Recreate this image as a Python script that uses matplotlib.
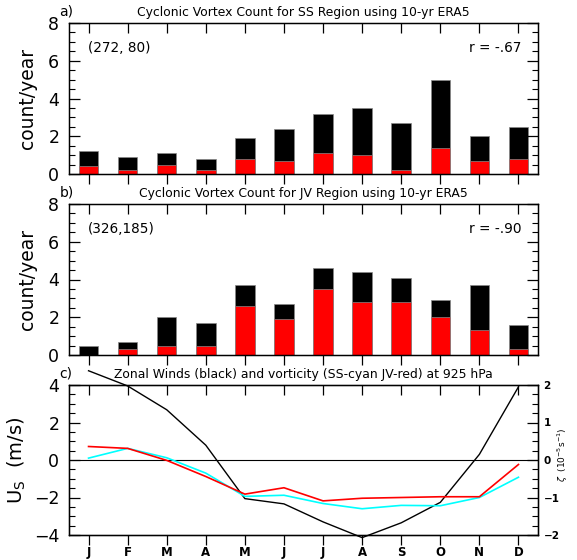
import matplotlib
matplotlib.use("Agg")
import matplotlib.pyplot as plt
from matplotlib.ticker import MultipleLocator

months = ["J", "F", "M", "A", "M", "J", "J", "A", "S", "O", "N", "D"]

ss_total = [1.2, 0.9, 1.1, 0.8, 1.9, 2.4, 3.2, 3.5, 2.7, 5.0, 2.0, 2.5]
ss_red = [0.4, 0.2, 0.5, 0.2, 0.8, 0.7, 1.1, 1.0, 0.2, 1.4, 0.7, 0.8]

jv_total = [0.5, 0.7, 2.0, 1.7, 3.7, 2.7, 4.6, 4.4, 4.1, 2.9, 3.7, 1.6]
jv_red = [0.0, 0.3, 0.5, 0.5, 2.6, 1.9, 3.5, 2.8, 2.8, 2.0, 1.3, 0.3]

zonal_wind = [4.76, 3.95, 2.68, 0.79, -2.06, -2.34, -3.3, -4.14, -3.35, -2.26, 0.3, 3.9]
vort_jv = [0.36, 0.31, -0.01, -0.44, -0.91, -0.74, -1.09, -1.02, -1.0, -0.98, -0.98, -0.12]
vort_ss = [0.05, 0.31, 0.06, -0.35, -0.97, -0.94, -1.16, -1.30, -1.21, -1.22, -1.0, -0.46]

titles = ["Cyclonic Vortex Count for SS Region using 10-yr ERA5",
          "Cyclonic Vortex Count for JV Region using 10-yr ERA5",
          "Zonal Winds (black) and vorticity (SS-cyan JV-red) at 925 hPa"]
letters = ["a)", "b)", "c)"]
locs = ["(272, 80)", "(326,185)"]
rvals = ["r = -.67", "r = -.90"]

plt.rcParams['font.family'] = ['DejaVu Sans']
fig = plt.figure(figsize=(5.77, 5.6), dpi=100)

L, W = 69 / 577, (538 - 69) / 577
def rect(top, bot):
    return [L, 1 - bot / 560, W, (bot - top) / 560]

x = list(range(1, 13))

def style_axis(ax, ymaj, ymin):
    ax.set_xlim(0.5, 12.5)
    ax.set_xticks(x)
    ax.tick_params(axis='x', which='major', bottom=True, top=False, direction='out', length=7, width=0.9)
    ax.yaxis.set_major_locator(MultipleLocator(ymaj))
    ax.yaxis.set_minor_locator(MultipleLocator(ymin))
    ax.tick_params(axis='y', which='major', direction='in', length=8, width=0.9, left=True, right=True,
                   labelsize=12.5, pad=7)
    ax.tick_params(axis='y', which='minor', direction='in', length=4, width=0.8, left=True, right=True)
    for s in ax.spines.values():
        s.set_linewidth(1.0)
    axt = ax.twiny()
    axt.set_xlim(0.5, 12.5)
    axt.set_xticks(x)
    axt.tick_params(axis='x', top=True, bottom=False, direction='in', length=7, width=0.9,
                    labeltop=False, labelbottom=False)
    return axt

panels = [(ss_total, ss_red, 23, 174), (jv_total, jv_red, 204, 355)]
for i, (tot, red, t, b) in enumerate(panels):
    ax = fig.add_axes(rect(t, b))
    ax.bar(x, tot, width=0.5, color='black', edgecolor='#888888', linewidth=0.5)
    ax.bar(x, red, width=0.5, color='red', edgecolor='#888888', linewidth=0.5)
    ax.set_ylim(0, 8)
    style_axis(ax, 2, 0.5)
    ax.set_xticklabels([])
    ax.set_ylabel("count/year", fontsize=13.5, labelpad=8)
    ax.set_title(titles[i], fontsize=8.9, pad=5)
    ax.text(-0.02, 1.03, letters[i], transform=ax.transAxes, fontsize=10, ha='left', va='bottom')
    ax.text(0.04, 0.834, locs[i], transform=ax.transAxes, fontsize=9.8, ha='left', va='center')
    ax.text(0.965, 0.834, rvals[i], transform=ax.transAxes, fontsize=9.8, ha='right', va='center')

ax = fig.add_axes(rect(385, 535))
ax.set_ylim(-4, 4)
style_axis(ax, 2, 0.5)
ax.tick_params(axis='y', which='both', right=False)
ax.set_xticklabels(months, fontsize=8.5, fontweight='bold')
ax.tick_params(axis='x', pad=1)
ax.axhline(0, color='black', linewidth=0.8)
ax.plot(x, zonal_wind, color='black', linewidth=1.0, clip_on=False, zorder=5)
ax.set_ylabel(r"U$_\mathregular{S}$  (m/s)", fontsize=14, labelpad=4)
ax.set_title(titles[2], fontsize=8.9, pad=5)
ax.text(-0.02, 1.03, letters[2], transform=ax.transAxes, fontsize=10, ha='left', va='bottom')

ax2 = ax.twinx()
ax2.set_ylim(-2, 2)
ax2.plot(x, vort_ss, color='cyan', linewidth=1.2)
ax2.plot(x, vort_jv, color='red', linewidth=1.2)
ax2.yaxis.set_major_locator(MultipleLocator(1))
ax2.yaxis.set_minor_locator(MultipleLocator(0.25))
ax2.tick_params(axis='y', which='major', direction='in', length=8, width=0.9, labelsize=7.5, pad=4)
ax2.tick_params(axis='y', which='minor', direction='in', length=4, width=0.8)
for lab in ax2.get_yticklabels():
    lab.set_fontweight('bold')
fig.text(563 / 577, 1 - 455 / 560, r"$\zeta$  (10$^{-5}$s$^{-1}$)", fontsize=6.5,
         rotation=90, ha='center', va='center')

fig.savefig("out.png", dpi=100)
